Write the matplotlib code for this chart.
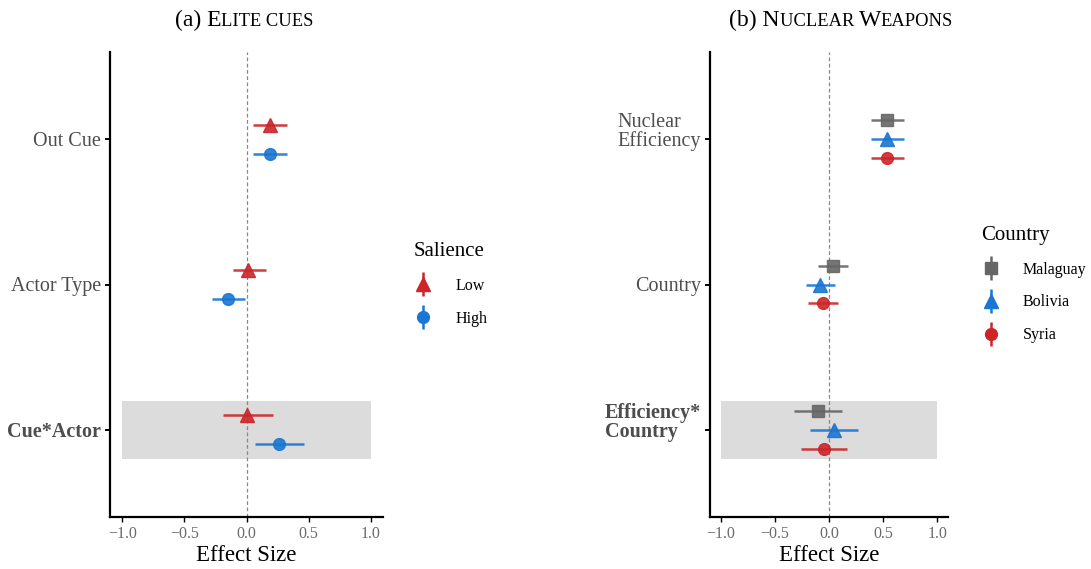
import matplotlib
matplotlib.use("Agg")
import matplotlib.pyplot as plt
from matplotlib.patches import Rectangle
from matplotlib.offsetbox import TextArea, HPacker, AnnotationBbox
from matplotlib.legend_handler import HandlerErrorbar
import numpy as np

plt.rcParams['font.family'] = ['Liberation Serif', 'DejaVu Serif']

# panel (a): elite cues
cue_terms = ["Cue*Actor", "Actor Type", "Out Cue"]
low_est = [0.00, 0.01, 0.19]
low_lo = [-0.19, -0.11, 0.05]
low_hi = [0.21, 0.16, 0.33]
high_est = [0.26, -0.15, 0.19]
high_lo = [0.07, -0.28, 0.05]
high_hi = [0.46, -0.01, 0.33]

# panel (b): nuclear weapons
# (trailing blank line keeps the second line level with the tick)
nuc_terms = ["Efficiency*\nCountry\n ", "Country", "Nuclear\nEfficiency\n "]
mal_est = [-0.10, 0.035, 0.54]
mal_lo = [-0.32, -0.10, 0.39]
mal_hi = [0.12, 0.18, 0.69]
bol_est = [0.045, -0.08, 0.54]
bol_lo = [-0.18, -0.21, 0.39]
bol_hi = [0.27, 0.06, 0.69]
syr_est = [-0.045, -0.06, 0.54]
syr_lo = [-0.26, -0.19, 0.39]
syr_hi = [0.17, 0.08, 0.69]

RED = "#cc2529"
BLUE = "#1976d2"
GRAY = "#666666"

fig = plt.figure(figsize=(10.91, 5.69), dpi=100)
ax1 = fig.add_axes([110/1091, 1-517/569, 273/1091, 465/569])
ax2 = fig.add_axes([710/1091, 1-517/569, 238/1091, 465/569])


def pointrange(ax, est, lo, hi, offset, marker, color, ms):
    y = np.arange(1, len(est)+1) + offset
    est = np.array(est)
    xerr = [est - np.array(lo), np.array(hi) - est]
    ax.errorbar(est, y, xerr=xerr, fmt=marker, color=color, ms=ms,
                elinewidth=1.8, capsize=0, alpha=0.9, zorder=3)


def style(ax, terms):
    ax.add_patch(Rectangle((-1, 0.8), 2, 0.4, facecolor="#dcdcdc",
                           edgecolor="none", zorder=0))
    ax.axvline(0, color="#888888", lw=0.9, ls=(0, (3, 2)), zorder=1)
    ax.set_xlim(-1.1, 1.1)
    ax.set_ylim(0.4, 3.6)
    ax.set_xticks([-1.0, -0.5, 0.0, 0.5, 1.0])
    ax.set_xticklabels(["\u22121.0", "\u22120.5", "0.0", "0.5", "1.0"])
    ax.set_yticks([1, 2, 3])
    ax.set_yticklabels(terms, linespacing=0.92, multialignment="left")
    ax.get_yticklabels()[0].set_fontweight("bold")
    for s in ["top", "right"]:
        ax.spines[s].set_visible(False)
    for s in ["left", "bottom"]:
        ax.spines[s].set_linewidth(1.6)
    ax.tick_params(axis="y", labelsize=14.5, labelcolor="#4d4d4d",
                   length=3.5, width=1.4, pad=3)
    ax.tick_params(axis="x", labelsize=11.5, labelcolor="#6b6b6b",
                   length=3.5, width=1.0, pad=3)
    ax.set_xlabel("Effect Size", fontsize=16.5, labelpad=2)


style(ax1, cue_terms)
style(ax2, nuc_terms)

pointrange(ax1, low_est, low_lo, low_hi, 0.1, "^", RED, 10)
pointrange(ax1, high_est, high_lo, high_hi, -0.1, "o", BLUE, 8.5)

pointrange(ax2, mal_est, mal_lo, mal_hi, 0.13, "s", GRAY, 8)
pointrange(ax2, bol_est, bol_lo, bol_hi, 0.0, "^", BLUE, 10)
pointrange(ax2, syr_est, syr_lo, syr_hi, -0.13, "o", RED, 8.5)


def legend_handle(ax, marker, color, ms):
    return ax.errorbar([np.nan], [np.nan], yerr=[[0.1], [0.1]], fmt=marker,
                       color=color, ms=ms, elinewidth=1.8, capsize=0)


hmap = {matplotlib.container.ErrorbarContainer: HandlerErrorbar(xerr_size=0, yerr_size=0.75)}

h1 = [legend_handle(ax1, "^", RED, 10), legend_handle(ax1, "o", BLUE, 8.5)]
leg1 = ax1.legend(h1, ["Low", "High"], title="Salience",
                  loc="center left", bbox_to_anchor=(1.06, 0.50),
                  frameon=False, fontsize=11.5, title_fontsize=15,
                  handlelength=1.2, handletextpad=1.4, labelspacing=1.05,
                  alignment="left", handler_map=hmap)

h2 = [legend_handle(ax2, "s", GRAY, 8), legend_handle(ax2, "^", BLUE, 10),
      legend_handle(ax2, "o", RED, 8.5)]
leg2 = ax2.legend(h2, ["Malaguay", "Bolivia", "Syria"], title="Country",
                  loc="center left", bbox_to_anchor=(1.08, 0.50),
                  frameon=False, fontsize=11.5, title_fontsize=15,
                  handlelength=1.2, handletextpad=1.4, labelspacing=1.05,
                  alignment="left", handler_map=hmap)


def smallcaps_title(pieces, xc):
    parts = [TextArea(txt, textprops=dict(fontsize=17 if big else 13.3))
             for txt, big in pieces]
    box = HPacker(children=parts, align="baseline", pad=0, sep=0)
    ab = AnnotationBbox(box, (xc, 1 - 20/569), xycoords="figure fraction",
                        frameon=False, box_alignment=(0.5, 0.5))
    fig.add_artist(ab)


# small-caps titles
title_a = [("(a) E", True), ("LITE CUES", False)]
title_b = [("(b) N", True), ("UCLEAR ", False), ("W", True), ("EAPONS", False)]
smallcaps_title(title_a, 244/1091)
smallcaps_title(title_b, 841/1091)

fig.savefig("out.png", dpi=100)
